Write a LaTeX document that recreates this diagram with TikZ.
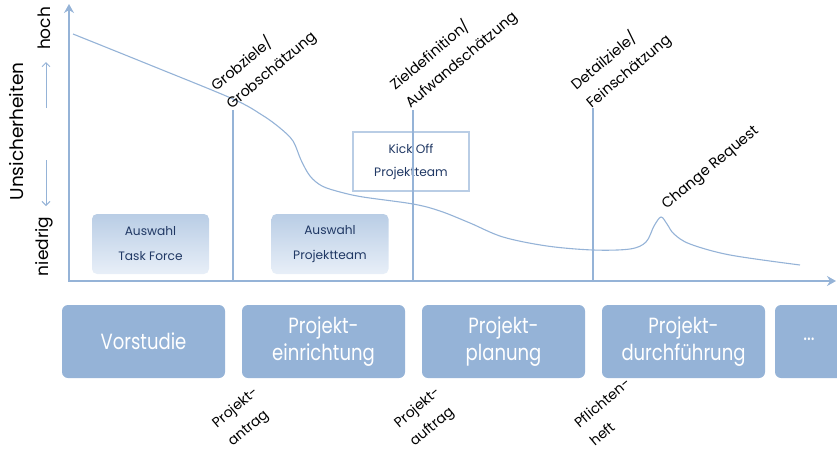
\documentclass[tikz,border=0pt]{standalone}
\usepackage{fontspec}
\setmainfont{Poppins}
\newfontfamily\condfont[FakeStretch=0.82]{Poppins}
\usetikzlibrary{arrows.meta}
\definecolor{axisblue}{HTML}{95B3D7}
\definecolor{navyt}{HTML}{203864}
\definecolor{gradtop}{HTML}{B9CDE5}
\definecolor{gradbot}{HTML}{E8EFF8}
\tikzset{
  axisline/.style={draw=axisblue, line width=2.6pt},
  msline/.style={draw=axisblue, line width=2.4pt},
  smallarrow/.style={draw=axisblue, line width=1pt, -{Straight Barb[length=4pt,width=8pt]}},
  curveline/.style={draw=axisblue, line width=1.1pt},
  phasebox/.style={fill=axisblue, rounded corners=6pt, minimum width=163pt, minimum height=73pt, text=white, font=\condfont\fontsize{22}{27}\selectfont, align=center, inner sep=0pt},
  selbox/.style={top color=gradtop, bottom color=gradbot, rounded corners=5pt, minimum width=117pt, minimum height=60pt, text=navyt, font=\fontsize{12.2}{25}\selectfont, align=center, inner sep=0pt},
  kickbox/.style={draw=gradtop, line width=1.2pt, fill=white, minimum width=116pt, minimum height=59pt, text=navyt, font=\fontsize{12.2}{23}\selectfont, align=center, inner sep=0pt},
  mslabel/.style={rotate=40, anchor=south west, align=left, inner sep=0pt, font=\fontsize{14.5}{23.5}\selectfont},
  doclabel/.style={rotate=40, anchor=south west, align=left, inner sep=0pt, font=\fontsize{14}{24}\selectfont},
  ylabel/.style={rotate=90, inner sep=0pt, font=\fontsize{17}{20}\selectfont},
}
\begin{document}
\begin{tikzpicture}[x=1pt,y=-1pt]
\useasboundingbox (0,0) rectangle (837,450);
% axes
\coordinate (Ytop) at (69,4);
\coordinate (O) at (69,281);
\coordinate (Xend) at (836,281);
\draw[axisline, {Stealth[length=9pt,width=10pt,inset=3pt]}-{Stealth[length=9pt,width=10pt,inset=3pt]}] (Ytop) -- (O) -- (Xend);
% y labels
\node[ylabel, font=\fontsize{18.5}{20}\selectfont] (unsich) at (17,131.5) {Unsicherheiten};
\node[ylabel] (hoch) at (44,28.5) {hoch};
\node[ylabel] (niedrig) at (44,246.5) {niedrig};
\coordinate (upS) at (46,108);
\coordinate (upE) at (46,62);
\coordinate (dnS) at (46,160);
\coordinate (dnE) at (46,206);
\draw[smallarrow] (upS) -- (upE);
\draw[smallarrow] (dnS) -- (dnE);
% selection boxes
\node[selbox] (tf) at (150.5,244) {Auswahl\\Task Force};
\node[selbox] (pt) at (330,244) {Auswahl\\Projektteam};
\node[kickbox] (ko) at (411,161.5) {Kick Off\\Projektteam};
% curve
\draw[curveline] plot[smooth, tension=0.55] coordinates {
 (73,34) (150,65) (233,99) (262,115) (280,128) (293,141) (301,160) (310,176) (322,186) (340,192) (363,197) (413,204) (440,211) (470,223) (503,237) (547,246) (593,250) (630,249) (646,242) (654,226) (661,217) (667,224) (674,234) (690,244) (730,255) (800,265)};
% milestone lines
\coordinate (m1t) at (233,110); \coordinate (m1b) at (233,282);
\coordinate (m2t) at (413,110); \coordinate (m2b) at (413,282);
\coordinate (m3t) at (593,108); \coordinate (m3b) at (593,282);
\draw[msline] (m1t) -- (m1b);
\draw[msline] (m2t) -- (m2b);
\draw[msline] (m3t) -- (m3b);
% milestone labels
\node[mslabel] (l1) at (234,113) {Grobziele/\\Grobschätzung};
\node[mslabel] (l2) at (413,112) {Zieldefinition/\\Aufwandschätzung};
\node[mslabel] (l3) at (594,112) {Detailziele/\\Feinschätzung};
\node[mslabel] (cr) at (669,213) {Change Request};
% phases
\node[phasebox] (p1) at (143.5,341.5) {Vorstudie};
\node[phasebox] (p2) at (323.5,341.5) {Projekt-\\einrichtung};
\node[phasebox] (p3) at (503.5,341.5) {Projekt-\\planung};
\node[phasebox] (p4) at (683.5,341.5) {Projekt-\\durchführung};
\path[fill=axisblue, rounded corners=6pt] (775,305) rectangle (850,378);
\node[text=white, font=\condfont\fontsize{22}{27}\selectfont] (p5) at (809,339) {...};
% documents
\node[doclabel] (d1) at (235,450) {Projekt-\\antrag};
\node[doclabel] (d2) at (417,450) {Projekt-\\auftrag};
\node[doclabel] (d3) at (595,447) {Pflichten-\\heft};
\end{tikzpicture}
\end{document}
